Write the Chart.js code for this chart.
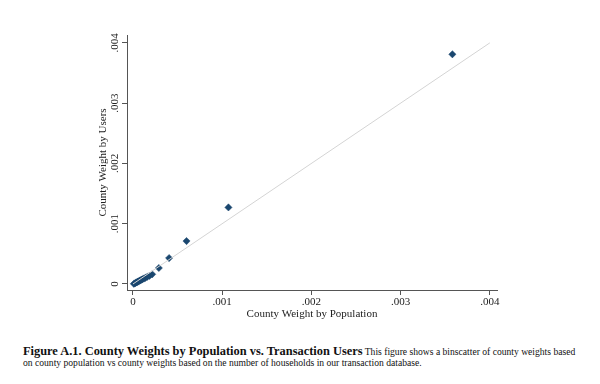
<!DOCTYPE html>
<html>
<head>
<meta charset="utf-8">
<script src="https://cdn.jsdelivr.net/npm/chart.js@4.4.0/dist/chart.umd.min.js"></script>
<style>
  body { margin: 0; background: #fff; }
  #wrap { position: absolute; left: 0; top: 0; width: 600px; height: 321px; }
  #caption {
    position: absolute; left: 23px; top: 346px; width: 560px;
    font-family: "Liberation Serif", serif; font-size: 9.6px; line-height: 11px; color: #111;
  }
  #caption b { font-size: 12.4px; }
</style>
</head>
<body>
<div id="wrap"><canvas id="myChart"></canvas></div>
<div id="caption"><b>Figure A.1. County Weights by Population vs. Transaction Users</b> This figure shows a binscatter of county weights based on county population vs county weights based on the number of households in our transaction database.</div>
<script>
// dati (binscatter)
const popWeight = [0.00001, 0.00002, 0.00003, 0.00004, 0.00005, 0.00006, 0.00007, 0.00008, 0.00009, 0.0001, 0.00011, 0.000125, 0.00014, 0.00016, 0.000185, 0.000215, 0.00029, 0.000405, 0.0006, 0.00107, 0.00358];
const userWeight = [0.000003, 0.00001, 0.000018, 0.000026, 0.000034, 0.000042, 0.00005, 0.000058, 0.000066, 0.000074, 0.000082, 0.000092, 0.000102, 0.000118, 0.000135, 0.00016, 0.000265, 0.00043, 0.000712, 0.00127, 0.00381];

// linea a 45 gradi
const fitX = [0, 0.004];
const fitY = [0, 0.004];

// tick
const xTicks = [0, 0.001, 0.002, 0.003, 0.004];
const yTicks = [0, 0.001, 0.002, 0.003, 0.004];

function fmt(v) {
    if (v === 0) return '0';
    return v.toFixed(3).replace(/^0/, '');
}

const axisColor = '#555';
const font = { family: '"Liberation Serif", serif', size: 11 };

const ctx = document.getElementById('myChart').getContext('2d');
const chart = new Chart(ctx, {
    type: 'scatter',
    data: {
        datasets: [{
            data: fitX.map((x, i) => ({ x: x, y: fitY[i] })),
            showLine: true,
            borderColor: '#d4d4d4',
            borderWidth: 1,
            pointRadius: 0
        }, {
            data: popWeight.map((x, i) => ({ x: x, y: userWeight[i] })),
            pointStyle: 'rectRot',
            pointRadius: 3.6,
            backgroundColor: '#1a476f',
            borderColor: '#1a476f',
            borderWidth: 0.5
        }]
    },
    options: {
        responsive: true,
        maintainAspectRatio: false,
        animation: false,
        layout: { padding: { left: 97, top: 35, right: 103, bottom: 0 } },
        plugins: {
            legend: { display: false },
            tooltip: { enabled: false }
        },
        scales: {
            x: {
                type: 'linear',
                min: -0.000067,
                max: 0.00408,
                afterBuildTicks: s => { s.ticks = xTicks.map(v => ({ value: v })); },
                afterFit: s => { s.height = 31; },
                grid: { drawOnChartArea: false, drawTicks: true, tickLength: 5, color: axisColor },
                border: { display: true, color: axisColor, width: 1 },
                ticks: { callback: v => fmt(v), font: font, color: '#222', padding: 1, maxRotation: 0 },
                title: { display: true, text: 'County Weight by Population', font: font, color: '#222', padding: 0 }
            },
            y: {
                type: 'linear',
                min: -0.0001,
                max: 0.00413,
                afterBuildTicks: s => { s.ticks = yTicks.map(v => ({ value: v })); },
                afterFit: s => { s.width = 30; },
                grid: { drawOnChartArea: false, drawTicks: true, tickLength: 5, color: axisColor },
                border: { display: true, color: axisColor, width: 1 },
                ticks: { callback: v => fmt(v), font: font, color: '#222', padding: -3, minRotation: 90, maxRotation: 90, crossAlign: 'center' },
                title: { display: true, text: 'County Weight by Users', font: font, color: '#222', padding: 0 }
            }
        }
    }
});
</script>
</body>
</html>
